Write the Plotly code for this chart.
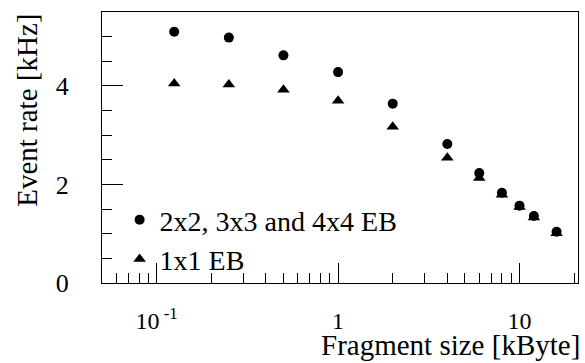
import math
import plotly.graph_objects as go

# Fragment sizes [kByte]
frag_size = [0.125, 0.25, 0.5, 1, 2, 4, 6, 8, 10, 12, 16]
# Event rate [kHz] for the multi-node event builders
rate_multi = [5.10, 4.98, 4.62, 4.28, 3.64, 2.82, 2.23, 1.83, 1.57, 1.36, 1.04]
# Event rate [kHz] for the 1x1 event builder
rate_1x1 = [4.05, 4.03, 3.92, 3.70, 3.17, 2.54, 2.13, 1.79, 1.54, 1.33, 1.01]

series_names = ["2x2, 3x3 and 4x4 EB", "1x1 EB"]

x_major_vals = [0.1, 1, 10]
x_major_text = ["10<sup> -1</sup>", "1", "10"]
x_minor_vals = [0.05, 0.06, 0.07, 0.08, 0.09,
                0.2, 0.3, 0.4, 0.5, 0.6, 0.7, 0.8, 0.9,
                2, 3, 4, 5, 6, 7, 8, 9, 20]
y_major_vals = [0, 2, 4]
y_minor_vals = [0.5, 1, 1.5, 2.5, 3, 3.5, 4.5, 5]

FONT = "Liberation Serif"
INK = "#000000"

fig = go.Figure()
fig.add_trace(go.Scatter(
    x=frag_size, y=rate_multi, mode="markers", name=series_names[0],
    marker=dict(symbol="circle", size=10, color=INK),
))
fig.add_trace(go.Scatter(
    x=frag_size, y=rate_1x1, mode="markers", name=series_names[1],
    marker=dict(symbol="triangle-up", size=11, color=INK),
))

fig.update_layout(
    width=585, height=363,
    margin=dict(l=102, r=7, t=12, b=80),
    paper_bgcolor="white", plot_bgcolor="white",
    font=dict(family=FONT, size=26, color=INK),
    showlegend=True,
    legend=dict(
        x=0.037, y=0.325, xanchor="left", yanchor="top",
        bgcolor="rgba(0,0,0,0)", font=dict(family=FONT, size=28),
        itemsizing="trace", tracegroupgap=0,
    ),
    xaxis=dict(
        type="log", range=[math.log10(0.05), math.log10(21)],
        showgrid=False, zeroline=False,
        showline=True, linecolor=INK, linewidth=1, mirror=True,
        tickmode="array", tickvals=x_major_vals, ticktext=x_major_text,
        ticks="inside", ticklen=20, tickwidth=1, tickcolor=INK,
        ticklabelstandoff=16,
        tickfont=dict(family=FONT, size=24),
        minor=dict(tickmode="array", tickvals=x_minor_vals,
                   ticks="inside", ticklen=10, tickwidth=1, tickcolor=INK,
                   showgrid=False),
    ),
    yaxis=dict(
        range=[0, 5.5],
        showgrid=False, zeroline=False,
        showline=True, linecolor=INK, linewidth=1, mirror=True,
        tickmode="array", tickvals=y_major_vals,
        ticks="inside", ticklen=21, tickwidth=1, tickcolor=INK,
        ticklabelstandoff=27,
        tickfont=dict(family=FONT, size=26),
        minor=dict(tickmode="array", tickvals=y_minor_vals,
                   ticks="inside", ticklen=10, tickwidth=1, tickcolor=INK,
                   showgrid=False),
    ),
    annotations=[
        dict(text="Fragment size [kByte]", xref="paper", yref="paper",
             x=1.0, y=-0.295, xanchor="right", yanchor="bottom",
             xshift=4, showarrow=False, font=dict(family=FONT, size=29)),
        dict(text="Event rate [kHz]", xref="paper", yref="paper",
             x=-0.159, y=1.0, xanchor="center", yanchor="top",
             textangle=-90, showarrow=False, font=dict(family=FONT, size=29)),
    ],
)

fig.write_html("out.html")
